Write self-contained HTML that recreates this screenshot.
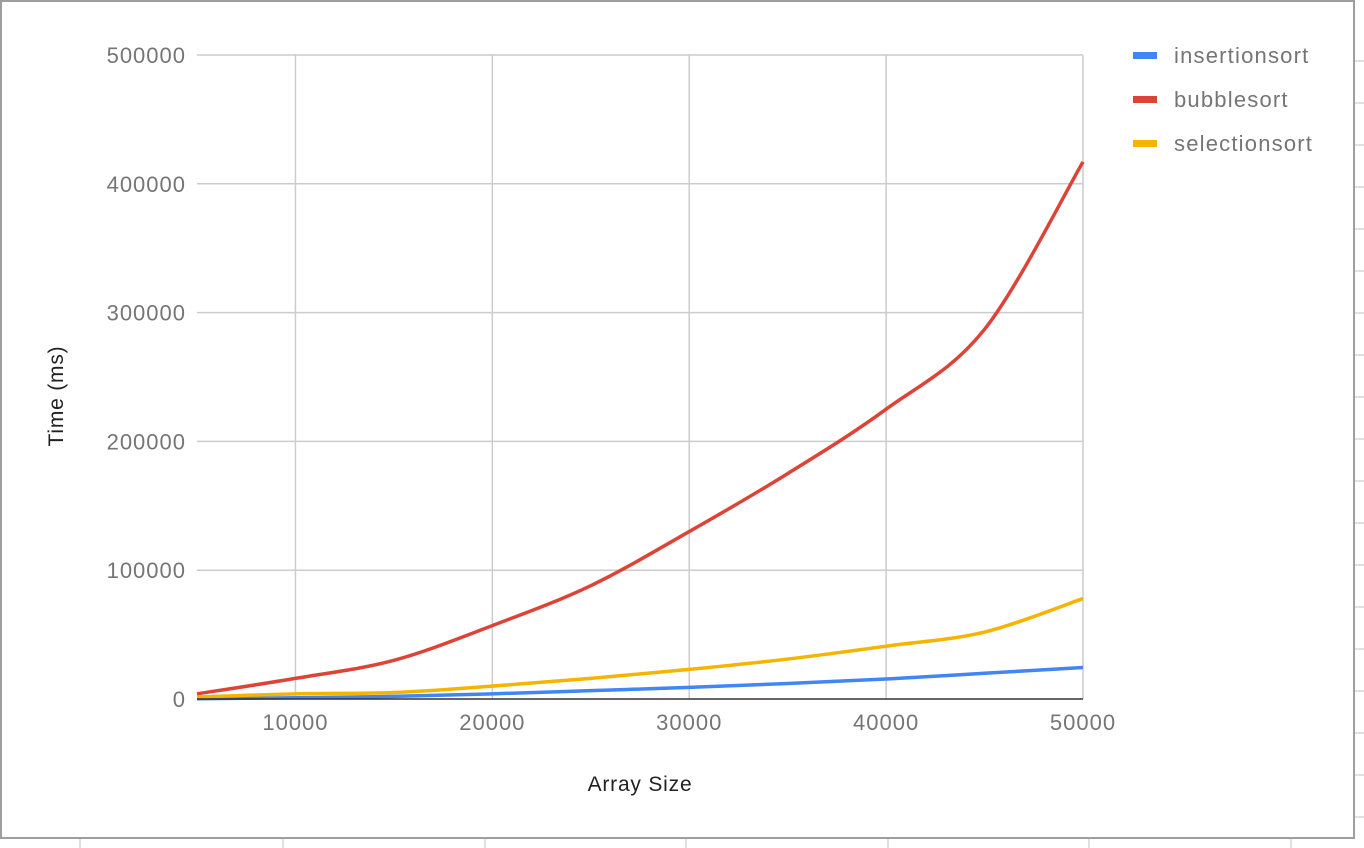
<!DOCTYPE html>
<html><head><meta charset="utf-8"><style>
html,body{margin:0;padding:0;background:#fff;}
svg{display:block;font-family:"Liberation Sans",Arial,sans-serif;}
</style></head><body>
<svg id="chart" width="1364" height="848">
<g id="outside"></g>
<rect x="1" y="1" width="1353" height="837" fill="#fff" stroke="#9e9e9e" stroke-width="2"/>
<g id="grid"></g>
<g id="series"></g>
<g id="axes"></g>
<text x="640" y="791" text-anchor="middle" font-size="21" letter-spacing="0.8" fill="#222">Array Size</text>
<text transform="translate(63,396) rotate(-90)" text-anchor="middle" font-size="21" letter-spacing="0.8" fill="#222">Time (ms)</text>
<g id="legend"></g>
</svg>
<script>
const categories=[5000,10000,15000,20000,25000,30000,35000,40000,45000,50000];
const insertionsort=[200,1000,2000,4000,6500,9000,12000,15500,20000,24500];
const bubblesort=[4000,16000,30000,57000,88000,130000,175000,225000,287000,417000];
const selectionsort=[1500,4000,5000,10000,16000,23000,31000,41000,52000,78000];
const xTicks=[10000,20000,30000,40000,50000];
const yTicks=[0,100000,200000,300000,400000,500000];
const seriesNames=["insertionsort","bubblesort","selectionsort"];
const NS="http://www.w3.org/2000/svg";
const X0=197,X1=1083,Y0=699,Y1=55;
const xs=v=>X0+(v-5000)/(50000-5000)*(X1-X0);
const ys=v=>Y0-v/500000*(Y0-Y1);
function mk(tag,attrs,parent,txt){const e=document.createElementNS(NS,tag);for(const k in attrs)e.setAttribute(k,attrs[k]);if(txt!==undefined)e.textContent=txt;parent.appendChild(e);return e;}
const out=document.getElementById('outside');
for(let y=61;y<840;y+=42){const l=mk('line',{x1:1355,x2:1364,y1:y,y2:y,stroke:'#e0e0e0','stroke-width':2},out);

}
[80,283,485,686,888,1089,1291].forEach(x=>{const l=mk('line',{x1:x,x2:x,y1:839,y2:848,stroke:'#e0e0e0','stroke-width':2},out);

});
const grid=document.getElementById('grid'),axes=document.getElementById('axes');
yTicks.forEach(t=>{if(t>0){const l=mk('line',{x1:X0,x2:X1,y1:ys(t),y2:ys(t),stroke:'#cccccc','stroke-width':1.5},grid);

}
const tx=mk('text',{x:186,y:ys(t)+8,'text-anchor':'end','font-size':22,'letter-spacing':1,fill:'#757575'},axes,String(t));

});
xTicks.forEach(t=>{const l=mk('line',{x1:xs(t),x2:xs(t),y1:Y1,y2:Y0,stroke:'#cccccc','stroke-width':1.5},grid);


const tx=mk('text',{x:xs(t),y:730,'text-anchor':'middle','font-size':22,'letter-spacing':1,fill:'#757575'},axes,String(t));

});
const base=mk('line',{x1:X0,x2:X1,y1:Y0,y2:Y0,stroke:'#333','stroke-width':1.5},axes);


function smooth(vals){const p=vals.map((v,i)=>[xs(categories[i]),ys(v)]);let d='M'+p[0][0]+','+p[0][1];
for(let i=0;i<p.length-1;i++){const a=p[i-1]||p[i],b=p[i],c=p[i+1],e=p[i+2]||c;
const c1=[b[0]+(c[0]-a[0])/6,b[1]+(c[1]-a[1])/6],c2=[c[0]-(e[0]-b[0])/6,c[1]-(e[1]-b[1])/6];
d+=' C'+c1[0]+','+c1[1]+' '+c2[0]+','+c2[1]+' '+c[0]+','+c[1];}return d;}
const sg=document.getElementById('series');
const colors=['#4285f4','#db4437','#f4b400'];
[insertionsort,bubblesort,selectionsort].forEach((s,i)=>{const p=mk('path',{d:smooth(s),fill:'none',stroke:colors[i],'stroke-width':3.5,'stroke-linejoin':'round'},sg);

});
const lg=document.getElementById('legend');
seriesNames.forEach((n,i)=>{const y=55+i*44;
const r=mk('rect',{x:1133,y:y-3,width:24,height:7,fill:colors[i]},lg);


const t=mk('text',{x:1174,y:y+8,'font-size':22,'letter-spacing':1.2,fill:'#757575'},lg,n);

});
</script>
</body></html>
